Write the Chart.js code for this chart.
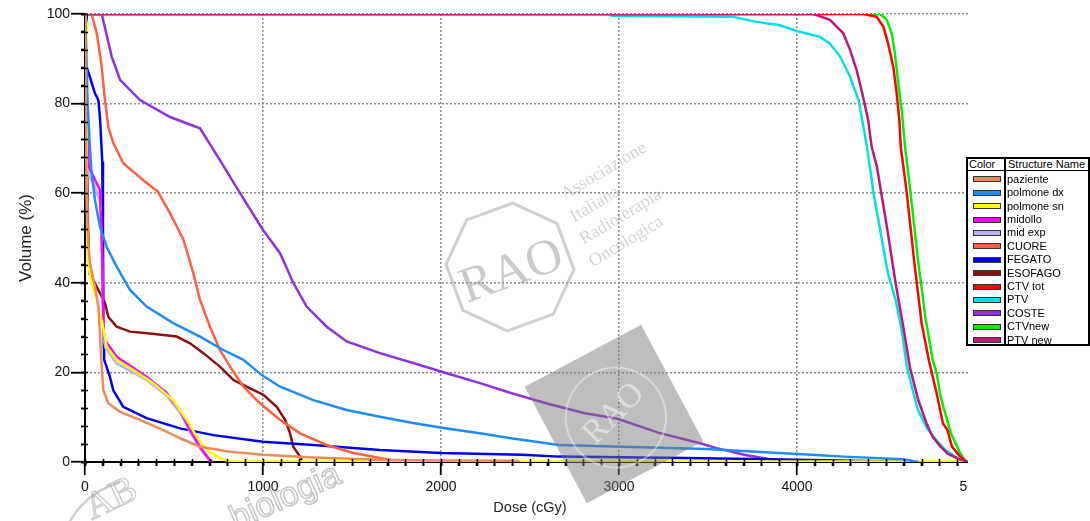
<!DOCTYPE html>
<html>
<head>
<meta charset="utf-8">
<script src="https://cdn.jsdelivr.net/npm/chart.js@4.4.1/dist/chart.umd.min.js"></script>
<style>
  html, body { margin: 0; padding: 0; background: #fff; }
  #wrap { position: relative; width: 1090px; height: 521px; overflow: hidden; }
  #plot { position: absolute; left: 0; top: 0; width: 968px; height: 521px; overflow: hidden; }
  #plot canvas { position: absolute; left: 0; top: 0; }
  #marks { pointer-events: none; }
  #legend {
    position: absolute; left: 966px; top: 157px; width: 124px; height: 189px;
    box-sizing: border-box; border: 2px solid #000; background: #fff;
    font-family: "Liberation Sans", Arial, sans-serif; font-size: 11px; color: #000;
  }
  #legend .cell { position: absolute; line-height: 13px; white-space: nowrap; }
  #legend .sw { position: absolute; left: 5px; width: 26px; height: 4px; border: 1px solid #333; }
</style>
</head>
<body>
<div id="wrap">
  <div id="plot">
    <canvas id="dvh" width="1000" height="521"></canvas>
    <canvas id="marks" width="1000" height="521"></canvas>
  </div>
  <div id="legend"></div>
</div>
<script>
// DVH curves: [dose cGy, volume %]
const paziente = [[0,100],[8,65],[14,52],[20,48],[28,44.4],[56,39.1],[75,34.7],[84,28.7],[94,21.3],[103,16],[131,13.1],[197,11.2],[309,9.4],[440,7.1],[534,5.3],[646,3.4],[815,2.3],[1002,1.6],[1283,1.0],[1657,0.5],[2000,0.35],[2430,0.3],[2440,0]];
const polmoneDx = [[0,100],[8,90],[15,80],[25,71.9],[37,64.5],[56,58.5],[84,52.5],[122,48],[178,43.6],[253,38.4],[346,34.7],[496,31],[646,28],[777,25],[890,22.8],[993,19.4],[1096,16.8],[1283,13.8],[1470,11.6],[1657,10.1],[1843,8.7],[2032,7.5],[2219,6.4],[2393,5.3],[2663,3.8],[3017,3.4],[3494,2.9],[3848,2.1],[4056,1.7],[4264,1.2],[4596,0.6],[4680,0]];
const polmoneSn = [[0,100],[9,98],[10,60],[12,51],[19,43.6],[37,40],[66,36.2],[94,31.7],[122,25.7],[178,22.8],[272,20.5],[384,17.6],[496,13.8],[571,9.4],[628,5.6],[684,2.7],[758,0.8],[815,0.1],[4960,0.1],[4965,0]];
const midollo = [[0,100],[10,80],[20,66],[47,63.7],[84,60.7],[95,50],[103,30],[112,27.2],[178,23.5],[346,19],[459,15.4],[534,11.6],[590,7.1],[646,3.4],[702,0.4],[720,0]];
const midExp = [[0,100],[10,75],[20,64],[50,62],[85,58],[96,45],[104,28],[115,25.5],[178,22],[346,18.3],[459,14.8],[534,11],[590,6.8],[646,3],[700,0.3],[715,0]];
const cuore = [[0,100],[37,100],[66,95.7],[94,88.2],[112,80.8],[131,74.8],[159,71.2],[215,66.7],[328,62.9],[410,60.3],[478,55.5],[553,49.6],[609,42.1],[646,36.2],[702,30.2],[758,25],[815,21.3],[890,16.8],[983,13.1],[1096,9.4],[1208,6.4],[1358,3.8],[1508,2],[1657,0.9],[1740,0.3],[1800,0]];
const fegato = [[0,100],[8,100],[10,88],[30,85.6],[56,82.3],[75,80.8],[84,77],[97,67],[101,50],[104,30],[108,22.8],[140,19],[159,16],[215,12.3],[346,9.8],[534,7.5],[721,6],[1000,4.5],[1283,3.8],[1657,2.7],[2000,2],[2455,1.6],[2663,1.2],[3371,0.9],[3848,0.6],[4300,0.3],[4700,0]];
const esofago = [[0,100],[8,90],[15,55],[25,42],[47,40.6],[75,38.4],[112,35.5],[131,32.4],[178,30.2],[253,29.1],[365,28.7],[515,28],[590,26.5],[665,24.3],[758,21.3],[834,18.3],[908,16.8],[1002,15],[1077,12.3],[1124,9.4],[1152,6.4],[1170,3.4],[1208,1.2],[1220,0]];
const ctvTot = [[0,100],[4372,100],[4447,99.4],[4485,97.2],[4512,93.4],[4541,88.2],[4560,82.3],[4575,76.3],[4583,70.4],[4617,60],[4658,45],[4700,31],[4742,22.5],[4783,15.6],[4820,8.6],[4845,7.2],[4870,3.5],[4908,1.6],[4950,0]];
const ptv = [[0,100],[2950,100],[2960,99.6],[3640,99.4],[3764,98.3],[3904,97.5],[3998,96.2],[4129,94.9],[4185,93.4],[4242,90.5],[4298,86],[4346,80.8],[4393,70.4],[4430,60],[4511,42.1],[4554,36.2],[4590,29],[4617,21.3],[4650,16],[4680,11.6],[4730,7.5],[4783,4.9],[4830,2.8],[4888,1.2],[4950,0]];
const coste = [[0,100],[94,100],[150,90.5],[197,85.3],[309,80.8],[478,77],[646,74.5],[758,67.4],[871,60],[1000,51.8],[1096,46.6],[1170,40],[1245,34.7],[1358,30.2],[1470,26.9],[1657,24.3],[1843,22.1],[2032,19.8],[2219,17.6],[2393,15.4],[2600,13],[2809,10.9],[2987,9.7],[3225,6.5],[3455,4.2],[3549,3.1],[3702,1.6],[3848,0.6],[3950,0]];
const ctvNew = [[0,100],[4466,100],[4504,98.7],[4532,95.7],[4550,91.2],[4569,84.5],[4588,78.6],[4607,70.4],[4638,60],[4680,45],[4721,32.4],[4762,22.8],[4785,19.8],[4803,15.4],[4822,12.3],[4865,6.4],[4916,2],[4940,0.6],[4960,0]];
const ptvNew = [[0,100],[4092,100],[4185,98.7],[4260,95.7],[4298,92],[4335,87.5],[4371,81.5],[4400,76.3],[4419,70.4],[4449,65.9],[4511,51],[4554,39.9],[4600,29.5],[4635,21],[4680,14],[4728,8.6],[4762,5.6],[4803,3.6],[4845,1.9],[4900,0.8],[4960,0]];

const structureNames = ['paziente','polmone dx','polmone sn','midollo','mid exp','CUORE','FEGATO','ESOFAGO','CTV tot','PTV','COSTE','CTVnew','PTV new'];
const structureColors = ['#F08A5D','#1E8CFF','#FFFF00','#FF00FF','#B8B0F0','#FF6040','#0000F0','#8B1010','#FF0000','#00E0E8','#9030E0','#00F000','#C0187A'];
const structureData = [paziente, polmoneDx, polmoneSn, midollo, midExp, cuore, fegato, esofago, ctvTot, ptv, coste, ctvNew, ptvNew];

const doseMax = 5000, doseMajor = 1000, doseMinor = 100;
const volMax = 100, volMajor = 20, volMinor = 4;

const FONT = '"Liberation Sans", Arial, sans-serif';
const GRID = '#8a8a8a';

// legend table
const legendBox = document.getElementById('legend');
function cell(text, left, top, cls) {
  const d = document.createElement('div');
  d.className = cls || 'cell';
  d.style.left = left + 'px';
  d.style.top = top + 'px';
  if (text !== null) d.textContent = text;
  legendBox.appendChild(d);
  return d;
}
cell('Color', 1, -1);
cell('Structure Name', 40, -1);
const hr = cell(null, 0, 11); hr.style.cssText += 'width:100%;height:0;border-top:1.5px solid #000;';
const vr = cell(null, 36, 0); vr.style.cssText += 'width:0;height:100%;border-left:2px solid #000;';
structureNames.forEach((n, i) => {
  const cy = 20.3 + 13.4 * i;
  const sw = cell(null, 5, cy - 3, 'sw');
  sw.style.background = structureColors[i];
  cell(n, 39, cy - 6.5);
});

// short stubs of the tick marks that poke into the plot
function drawTickStubs(chart, ctx) {
  const area = chart.chartArea;
  const xs = chart.scales.x, ys = chart.scales.y;
  ctx.save();
  ctx.strokeStyle = '#000';
  ctx.lineWidth = 1.6;
  ctx.beginPath();
  for (let v = 0; v <= doseMax; v += doseMinor) {
    const px = Math.round(xs.getPixelForValue(v)) + 0.5;
    ctx.moveTo(px, area.bottom - 3);
    ctx.lineTo(px, area.bottom + 4);
  }
  for (let v = 0; v <= volMax; v += volMinor) {
    const py = Math.round(ys.getPixelForValue(v)) + 0.5;
    ctx.moveTo(area.left - 4, py);
    ctx.lineTo(area.left + 3, py);
  }
  ctx.stroke();
  ctx.restore();
}

// society seals printed over the plot
function drawSeals(ctx) {
  const serif = '"Liberation Serif", "DejaVu Serif", serif';

  // octagon seal
  ctx.save();
  ctx.translate(510, 267);
  ctx.rotate(-0.35);
  ctx.strokeStyle = 'rgba(160,160,160,0.5)';
  ctx.lineWidth = 3;
  ctx.beginPath();
  for (let k = 0; k < 8; k++) {
    const a = Math.PI / 8 + k * Math.PI / 4;
    const px = 64 * Math.cos(a), py = 64 * Math.sin(a);
    if (k === 0) ctx.moveTo(px, py); else ctx.lineTo(px, py);
  }
  ctx.closePath();
  ctx.stroke();
  ctx.fillStyle = 'rgba(150,150,150,0.5)';
  ctx.textAlign = 'center';
  ctx.textBaseline = 'middle';
  ctx.font = '50px ' + serif;
  ctx.fillText('RAO', 0, 6);
  ctx.restore();

  ctx.save();
  ctx.translate(565, 200);
  ctx.rotate(-0.54);
  ctx.fillStyle = 'rgba(175,175,175,0.55)';
  ctx.font = '18px ' + serif;
  ['Associazione', 'Italiana', 'Radioterapia', 'Oncologica'].forEach((t, i) => {
    ctx.fillText(t, -3.5 * i, 24 * i);
  });
  ctx.restore();

  // grey square seal
  ctx.save();
  ctx.translate(614, 414);
  ctx.rotate(-0.49);
  ctx.fillStyle = 'rgba(120,120,120,0.48)';
  ctx.fillRect(-66, -66, 132, 132);
  ctx.strokeStyle = 'rgba(255,255,255,0.4)';
  ctx.lineWidth = 2;
  ctx.beginPath();
  ctx.arc(0, 4, 50, 0, Math.PI * 2);
  ctx.stroke();
  ctx.rotate(-0.3);
  ctx.fillStyle = 'rgba(255,255,255,0.5)';
  ctx.textAlign = 'center';
  ctx.textBaseline = 'middle';
  ctx.font = '34px ' + serif;
  ctx.fillText('RAO', 0, 0);
  ctx.restore();

  // bottom-left seal
  ctx.save();
  ctx.strokeStyle = 'rgba(160,160,160,0.5)';
  ctx.lineWidth = 2.5;
  ctx.beginPath();
  ctx.arc(140, 560, 80, Math.PI * 1.05, Math.PI * 1.42);
  ctx.stroke();
  ctx.translate(92, 520);
  ctx.rotate(-0.45);
  ctx.lineWidth = 1.5;
  ctx.font = '38px ' + serif;
  ctx.strokeText('AB', 0, 0);
  ctx.restore();

  ctx.save();
  ctx.translate(236, 530);
  ctx.rotate(-0.42);
  ctx.strokeStyle = 'rgba(150,150,150,0.55)';
  ctx.lineWidth = 1.5;
  ctx.font = '34px ' + FONT;
  ctx.strokeText('biologia', 0, 0);
  ctx.restore();
}

// minor-tick axes: no labels, no grid, zero size, sit right against the plot
const minorAxis = (max, step, horizontal) => ({
  type: 'linear',
  position: horizontal ? 'bottom' : 'left',
  weight: -1,
  min: 0,
  max: max,
  ticks: { stepSize: step, maxTicksLimit: 1000, autoSkip: false, maxRotation: 0, callback: () => '' },
  grid: { drawOnChartArea: false, drawTicks: true, tickLength: 4, tickColor: '#000', tickWidth: 1.6 },
  border: { display: false },
  afterFit: s => { if (horizontal) s.height = 0; else s.width = 0; }
});

const chart = new Chart(document.getElementById('dvh'), {
  type: 'line',
  data: {
    datasets: structureNames.map((name, i) => ({
      label: name,
      data: structureData[i].map(([d, v]) => ({ x: d, y: v })),
      borderColor: structureColors[i],
      backgroundColor: structureColors[i],
      borderWidth: 2.5,
      pointRadius: 0,
      fill: false,
      tension: 0,
      xAxisID: 'x',
      yAxisID: 'y',
      order: name === 'PTV new' ? -1 : 0
    }))
  },
  options: {
    responsive: false,
    animation: false,
    devicePixelRatio: 1,
    layout: { padding: { top: 14, right: 25, left: 0, bottom: 0 } },
    plugins: { legend: { display: false }, tooltip: { enabled: false } },
    scales: {
      x: {
        type: 'linear',
        position: 'bottom',
        weight: 0,
        min: 0,
        max: doseMax,
        ticks: {
          stepSize: doseMajor,
          autoSkip: false,
          maxRotation: 0,
          padding: 4,
          color: '#111',
          font: { family: FONT, size: 14 },
          callback: v => String(v)
        },
        grid: {
          drawTicks: true,
          tickLength: 13,
          tickColor: '#000',
          tickWidth: 1.8,
          lineWidth: 1.5,
          color: c => (c.tick && c.tick.value > 0 && c.tick.value < doseMax) ? GRID : 'rgba(0,0,0,0)'
        },
        border: { display: true, color: '#000', width: 2, dash: [2, 2] },
        title: { display: true, text: 'Dose (cGy)', color: '#222', font: { family: FONT, size: 14.5 }, padding: { top: 0, bottom: 4 } },
        afterFit: s => { s.height = 59; s.paddingLeft = 0; s.paddingRight = 0; }
      },
      xMinor: minorAxis(doseMax, doseMinor, true),
      y: {
        position: 'left',
        weight: 0,
        min: 0,
        max: volMax,
        ticks: {
          stepSize: volMajor,
          autoSkip: false,
          padding: 1,
          color: '#111',
          font: { family: FONT, size: 14 },
          callback: v => String(v)
        },
        grid: {
          drawTicks: true,
          tickLength: 14,
          tickColor: '#000',
          tickWidth: 1.8,
          lineWidth: 1.5,
          color: c => (c.tick && c.tick.value > 0) ? GRID : 'rgba(0,0,0,0)'
        },
        border: { display: true, color: '#000', width: 2, dash: [2, 2] },
        title: { display: true, text: 'Volume (%)', color: '#222', font: { family: FONT, size: 17 }, padding: { top: 16, bottom: 0 } },
        afterFit: s => { s.width = 85; s.paddingTop = 0; s.paddingBottom = 0; }
      },
      yMinor: minorAxis(volMax, volMinor, false)
    }
  }
});

const overlay = document.getElementById('marks').getContext('2d');
drawTickStubs(chart, overlay);
drawSeals(overlay);
</script>
</body>
</html>
